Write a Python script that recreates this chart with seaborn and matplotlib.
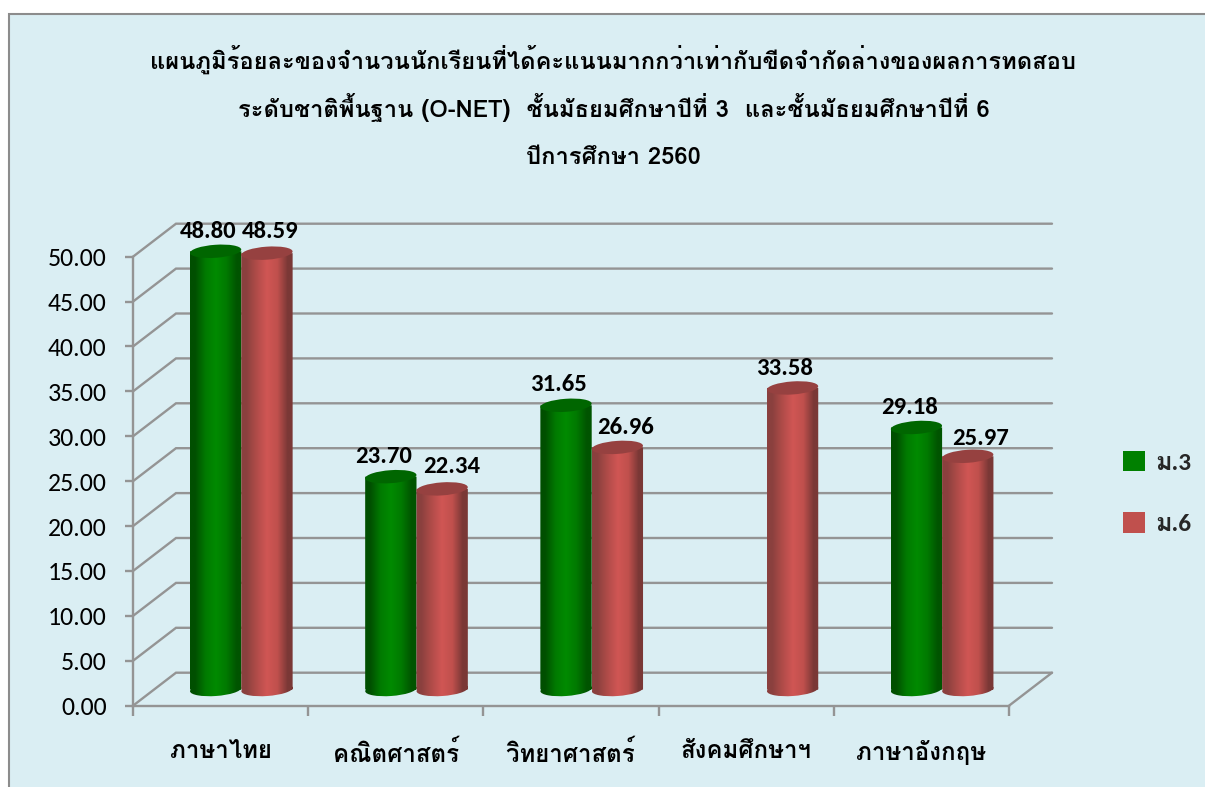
import numpy as np
import pandas as pd
import matplotlib
matplotlib.use("Agg")
import matplotlib.pyplot as plt
import seaborn as sns
from matplotlib.patches import Rectangle, Ellipse
from matplotlib.path import Path
from matplotlib.transforms import Affine2D, IdentityTransform
from matplotlib.colors import to_rgb

# ---- data ----
title_lines = ["แผนภูมิร้อยละของจำนวนนักเรียนที่ได้คะแนนมากกว่าเท่ากับขีดจำกัดล่างของผลการทดสอบ",
               "ระดับชาติพื้นฐาน (O-NET)  ชั้นมัธยมศึกษาปีที่ 3  และชั้นมัธยมศึกษาปีที่ 6",
               "ปีการศึกษา 2560"]
subjects = ["ภาษาไทย", "คณิตศาสตร์", "วิทยาศาสตร์", "สังคมศึกษาฯ", "ภาษาอังกฤษ"]
grade3 = [48.80, 23.70, 31.65, np.nan, 29.18]
grade6 = [48.59, 22.34, 26.96, 33.58, 25.97]
series_names = ["ม.3", "ม.6"]
y_ticks = [0, 5, 10, 15, 20, 25, 30, 35, 40, 45, 50]

# ---- styling constants ----
W, H = 1205, 787
BG = "#DAEEF3"
GRID = "#949494"
COLORS = ["#008000", "#C0504D"]
GRADIENTS = [["#004F00", "#007A00", "#008A00", "#007A00", "#005400"],
             ["#8A403E", "#B04C49", "#D05654", "#C0504D", "#7A3836"]]
TOPS = ["#006600", "#964140"]
FONT = ["Carlito", "Loma"]
NUDGE_G = {0: (-7, 20), 1: (-7, 20), 2: (-8, 21), 4: (-7, 20)}
NUDGE_R = {0: (3, 22), 1: (10, 22), 2: (8, 20), 3: (-8, 19), 4: (13, 18)}

sns.set_theme(style="white")
plt.rcParams["font.family"] = FONT
plt.rcParams["axes.unicode_minus"] = False

fig = plt.figure(figsize=(W / 100, H / 100), dpi=100, facecolor="white")
fig.patches.append(Rectangle((9, -20), W + 20, H - 14 + 20, transform=IdentityTransform(),
                             facecolor=BG, edgecolor="#8C8C8C", linewidth=1.5, zorder=-5))

px_left, px_right, px_top, px_bottom = 133, 1009, 256.7, 705.7
ax = fig.add_axes([px_left / W, 1 - px_bottom / H, (px_right - px_left) / W, (px_bottom - px_top) / H])
ax.patch.set_alpha(0)

df = pd.DataFrame({"subject": subjects * 2,
                   "value": grade3 + grade6,
                   "grade": [series_names[0]] * 5 + [series_names[1]] * 5})
sns.barplot(data=df, x="subject", y="value", hue="grade", order=subjects, hue_order=series_names,
            palette=COLORS, saturation=1, width=0.586, gap=0, errorbar=None, ax=ax, zorder=4)
ax.set_xlim(-0.5, 4.5)
ax.set_ylim(0, 50)
ax.set_autoscale_on(False)
ax.set_xlabel("")
ax.set_ylabel("")

# depth of the 3D box, in data units
sx = (px_right - px_left) / 5
sy = (px_bottom - px_top) / 50
depth_x, depth_y = 43 / sx, 33 / sy
for v in y_ticks:
    ax.plot([-0.5, -0.5 + depth_x, 4.5 + depth_x], [v, v + depth_y, v + depth_y],
            color=GRID, lw=1.7, clip_on=False, zorder=1, solid_joinstyle="miter")
ax.plot([4.5, 4.5 + depth_x], [0, depth_y], color=GRID, lw=1.7, clip_on=False, zorder=1)

for s in ("top", "right"):
    ax.spines[s].set_visible(False)
for s in ("left", "bottom"):
    ax.spines[s].set_color(GRID)
    ax.spines[s].set_linewidth(1.7)
ax.set_yticks(y_ticks)
ax.set_yticklabels([f"{v:.2f}" for v in y_ticks], fontsize=18.6)
ax.set_xticks(range(5))
ax.set_xticklabels(subjects, fontsize=17.3, fontweight="bold", family=["Loma"])
ax.set_xticks(np.arange(-0.5, 5, 1), minor=True)
ax.tick_params(axis="x", which="major", length=0, pad=25, colors="black", bottom=False)
ax.tick_params(axis="x", which="minor", length=7.5, width=1.7, color=GRID, bottom=True)
ax.tick_params(axis="y", length=6, width=1.7, color=GRID, pad=13, labelcolor="black", left=True)

# cylinders: the bars give position and height, gradients give the round look
off_x, off_y = 20.7, 16.2
ell_w_h = 13.0
tilt = 4
z = 5
nudges = [NUDGE_G, NUDGE_R]
for k, cont in enumerate(ax.containers):
    cmap_rgb = np.array([[to_rgb(c) for c in GRADIENTS[k]]])
    for bar in cont:
        h = bar.get_height()
        if not np.isfinite(h):
            continue
        cat = int(round(bar.get_x() + bar.get_width() / 2))
        (x0, y0) = ax.transData.transform((bar.get_x(), 0))
        (x1, y1) = ax.transData.transform((bar.get_x() + bar.get_width(), h))
        x0, x1 = x0 + off_x, x1 + off_x
        y0, y1 = y0 + off_y, y1 + off_y
        cx, w = (x0 + x1) / 2, x1 - x0
        bar.set_visible(False)
        body = Path.make_compound_path(
            Path.unit_rectangle().transformed(Affine2D().scale(w, y1 - y0).translate(x0, y0)),
            Path.unit_circle().transformed(Affine2D().scale(w / 2, ell_w_h / 2).rotate_deg(tilt).translate(cx, y0)))
        im = ax.imshow(cmap_rgb, extent=(x0, x1, y0 - 10, y1 + 2), transform=IdentityTransform(),
                       aspect="auto", interpolation="bilinear", zorder=z)
        im.set_clip_box(fig.bbox)
        im.set_clip_path(body, IdentityTransform())
        ax.add_artist(Ellipse((cx, y1), w, ell_w_h, angle=tilt, transform=IdentityTransform(),
                              facecolor=TOPS[k], edgecolor="none", zorder=z + 0.1, clip_on=False))
        z += 1
        dx, dy = nudges[k][cat]
        fig.text((cx + dx) / W, (y1 + dy) / H, f"{h:.2f}", ha="center", va="center",
                 fontsize=17.8, fontweight="bold", color="black")
ax.set_xlim(-0.5, 4.5)
ax.set_ylim(0, 50)

# legend
handles, labels = ax.get_legend_handles_labels()
leg = ax.legend(handles, labels, loc="center left", bbox_to_anchor=(1123 / W, 1 - 493 / H),
                bbox_transform=fig.transFigure, frameon=False, fontsize=18, handlelength=0.88,
                handleheight=0.88, handletextpad=0.42, labelspacing=1.55, borderpad=0, borderaxespad=0,
                prop={"family": ["Carlito", "Loma"], "weight": "bold", "size": 18})
for p in leg.get_patches():
    p.set_edgecolor("none")

# title
for line, py in zip(title_lines, (59, 108, 157)):
    fig.text(613.5 / W, 1 - py / H, line, ha="center", va="center", family=["Loma"],
             fontsize=17.1, fontweight="bold", color="black")

fig.savefig("out.png", dpi=100, facecolor=fig.get_facecolor())
